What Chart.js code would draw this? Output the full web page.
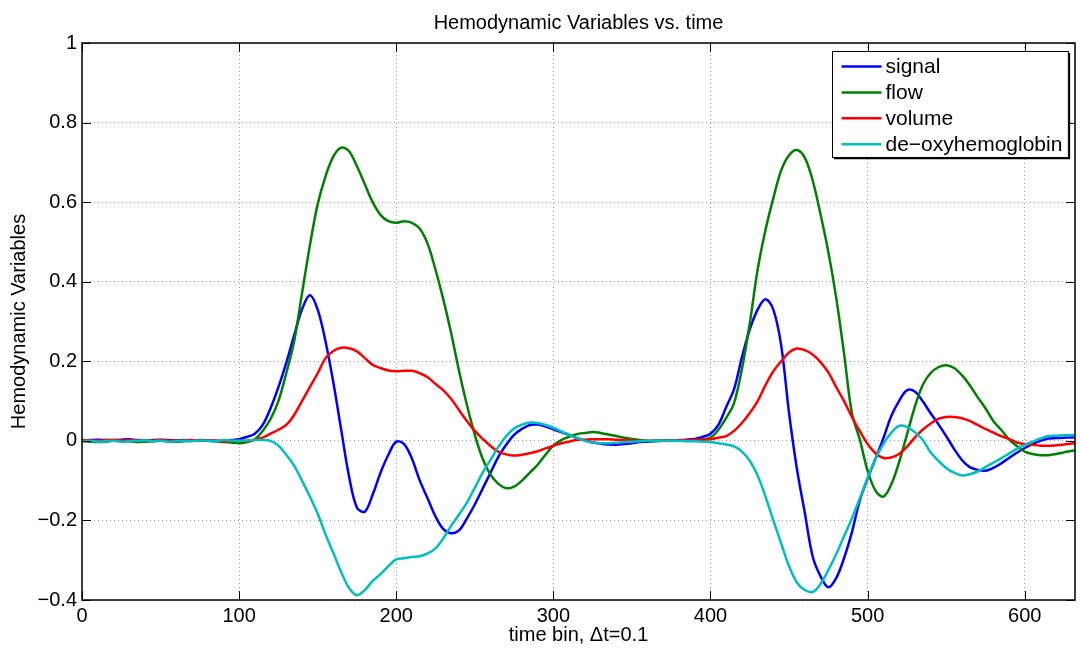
<!DOCTYPE html>
<html>
<head>
<meta charset="utf-8">
<script src="https://cdn.jsdelivr.net/npm/chart.js@4.4.1/dist/chart.umd.min.js"></script>
<style>
  html, body { margin: 0; padding: 0; background: #fff; }
  #wrap { width: 1080px; height: 654px; }
</style>
</head>
<body>
<div id="wrap"><canvas id="c" width="1080" height="654"></canvas></div>
<script>
// ---- data (time bins, dt = 0.1) ----
const timeBins = [];
for (let t = 0; t <= 630; t += 5) timeBins.push(t);
timeBins.push(632);

const signal = [
  0.001,0.002,0.003,0.002,0.001,0.003,0.004,0.002,0.001,0.002,
  0.003,0.002,0.001,0.002,0.001,0.002,0.001,0.000,0.001,0.002,
  0.004,0.010,0.018,0.040,0.082,0.135,0.196,0.265,0.330,0.366,
  0.330,0.250,0.146,0.027,-0.090,-0.168,-0.178,-0.135,-0.080,-0.035,
  -0.002,-0.008,-0.045,-0.100,-0.145,-0.190,-0.222,-0.232,-0.225,-0.195,
  -0.160,-0.120,-0.080,-0.040,-0.010,0.015,0.030,0.040,0.041,0.036,
  0.029,0.022,0.015,0.007,0.001,-0.004,-0.007,-0.009,-0.010,-0.008,
  -0.006,-0.003,-0.002,0.000,0.001,0.001,0.002,0.003,0.005,0.010,
  0.018,0.040,0.085,0.130,0.210,0.280,0.330,0.356,0.330,0.240,
  0.070,-0.070,-0.180,-0.290,-0.340,-0.368,-0.345,-0.295,-0.230,-0.150,
  -0.095,-0.045,0.006,0.062,0.100,0.127,0.124,0.100,0.070,0.042,
  0.012,-0.020,-0.048,-0.066,-0.073,-0.075,-0.068,-0.057,-0.043,-0.030,
  -0.018,-0.008,0.000,0.006,0.007,0.008,0.0085,0.009
];
const flow = [
  0.000,-0.002,-0.003,-0.002,0.000,0.001,-0.001,-0.003,-0.002,-0.001,
  0.000,-0.001,-0.002,-0.001,0.000,0.001,0.000,-0.001,-0.003,-0.004,
  -0.006,-0.003,0.004,0.025,0.055,0.100,0.170,0.250,0.370,0.490,
  0.595,0.665,0.715,0.737,0.728,0.690,0.645,0.600,0.568,0.552,
  0.548,0.552,0.548,0.533,0.495,0.430,0.355,0.270,0.175,0.090,
  0.015,-0.045,-0.085,-0.108,-0.119,-0.115,-0.100,-0.080,-0.060,-0.035,
  -0.012,0.002,0.010,0.017,0.020,0.022,0.020,0.016,0.012,0.008,
  0.005,0.002,0.000,-0.001,0.000,0.000,0.000,0.001,0.002,0.004,
  0.008,0.028,0.058,0.095,0.180,0.295,0.430,0.530,0.610,0.680,
  0.718,0.731,0.712,0.655,0.570,0.475,0.360,0.220,0.070,0.004,
  -0.075,-0.125,-0.140,-0.110,-0.054,0.015,0.085,0.140,0.170,0.185,
  0.190,0.183,0.165,0.140,0.110,0.082,0.050,0.028,0.004,-0.013,
  -0.027,-0.033,-0.036,-0.036,-0.033,-0.029,-0.025,-0.024
];
const volume = [
  0.002,0.001,0.000,0.002,0.003,0.001,0.002,0.001,0.000,0.001,
  0.002,0.001,0.000,0.001,0.002,0.000,0.001,0.000,-0.001,0.000,
  0.000,0.000,0.003,0.008,0.018,0.028,0.040,0.065,0.100,0.135,
  0.170,0.208,0.226,0.234,0.233,0.225,0.208,0.191,0.183,0.177,
  0.175,0.176,0.176,0.170,0.160,0.143,0.127,0.105,0.077,0.050,
  0.025,0.005,-0.013,-0.027,-0.034,-0.037,-0.035,-0.031,-0.026,-0.019,
  -0.0125,-0.006,-0.002,0.002,0.003,0.004,0.004,0.004,0.003,0.002,
  0.001,0.000,0.000,0.001,0.000,0.000,0.001,0.002,0.002,0.003,
  0.004,0.008,0.012,0.025,0.045,0.070,0.100,0.140,0.175,0.200,
  0.222,0.232,0.228,0.217,0.198,0.172,0.135,0.100,0.060,0.025,
  -0.008,-0.031,-0.043,-0.042,-0.033,-0.015,0.008,0.028,0.043,0.055,
  0.060,0.060,0.057,0.050,0.040,0.030,0.021,0.012,0.005,-0.004,
  -0.008,-0.010,-0.012,-0.0125,-0.011,-0.009,-0.0065,-0.006
];
const deoxy = [
  -0.001,0.000,-0.002,-0.001,0.000,-0.002,-0.001,0.000,0.001,-0.001,
  0.000,-0.002,-0.001,0.000,-0.001,0.001,0.000,-0.001,0.002,0.001,
  0.000,0.001,0.002,0.002,0.000,-0.012,-0.035,-0.062,-0.100,-0.140,
  -0.183,-0.235,-0.282,-0.330,-0.370,-0.388,-0.375,-0.352,-0.335,-0.315,
  -0.298,-0.295,-0.292,-0.290,-0.283,-0.270,-0.245,-0.213,-0.185,-0.155,
  -0.118,-0.080,-0.048,-0.015,0.012,0.031,0.041,0.046,0.045,0.040,
  0.033,0.024,0.015,0.007,0.000,-0.004,-0.006,-0.006,-0.005,-0.003,
  -0.002,-0.001,0.000,0.000,0.001,0.000,0.000,-0.001,-0.001,-0.002,
  -0.003,-0.006,-0.009,-0.014,-0.027,-0.050,-0.087,-0.140,-0.200,-0.258,
  -0.315,-0.356,-0.375,-0.380,-0.360,-0.325,-0.285,-0.240,-0.195,-0.145,
  -0.093,-0.045,-0.008,0.020,0.0375,0.035,0.022,0.003,-0.028,-0.050,
  -0.068,-0.080,-0.087,-0.084,-0.077,-0.066,-0.055,-0.044,-0.032,-0.020,
  -0.010,-0.002,0.006,0.012,0.013,0.014,0.014,0.014
];

const seriesNames = ['signal', 'flow', 'volume', 'de\u2212oxyhemoglobin'];
const seriesColors = ['#0000FF', '#008000', '#FF0000', '#00BFBF'];
const xTickValues = [0, 100, 200, 300, 400, 500, 600];
const yTickValues = [-0.4, -0.2, 0, 0.2, 0.4, 0.6, 0.8, 1];
const chartTitle = 'Hemodynamic Variables vs. time';
const xTitle = 'time bin, \u0394t=0.1';
const yTitle = 'Hemodynamic Variables';

// ---- chart ----
const FONT = '"Liberation Sans", Arial, Helvetica, sans-serif';
const toPts = arr => timeBins.map((t, i) => ({ x: t, y: arr[i] }));
const allSeries = [signal, flow, volume, deoxy];

const datasets = allSeries.map((arr, i) => ({
  label: seriesNames[i],
  data: toPts(arr),
  borderColor: seriesColors[i],
  backgroundColor: seriesColors[i],
  borderWidth: 2.5,
  pointRadius: 0,
  fill: false,
  tension: 0.35,
  order: allSeries.length - i
}));

const fmtY = v => {
  const r = Math.round(v * 10) / 10;
  if (r === 0) return '0';
  return (r < 0 ? '\u2212' : '') + String(Math.abs(r));
};

const framePlugin = {
  id: 'frame',
  afterDatasetsDraw(chart) {
    const { ctx, chartArea: a, scales: { x, y } } = chart;
    ctx.save();
    // title centred over the plot area
    ctx.fillStyle = '#000';
    ctx.font = '20px ' + FONT;
    ctx.textAlign = 'center';
    ctx.textBaseline = 'alphabetic';
    ctx.fillText(chartTitle, (a.left + a.right) / 2, 28.5);

    // inward ticks on all four sides
    ctx.strokeStyle = '#000';
    ctx.lineWidth = 1;
    const L = 9;
    ctx.beginPath();
    x.ticks.forEach(t => {
      const px = Math.round(x.getPixelForValue(t.value)) + 0.5;
      ctx.moveTo(px, a.bottom); ctx.lineTo(px, a.bottom - L);
      ctx.moveTo(px, a.top); ctx.lineTo(px, a.top + L);
    });
    y.ticks.forEach(t => {
      const py = Math.round(y.getPixelForValue(t.value)) + 0.5;
      ctx.moveTo(a.left, py); ctx.lineTo(a.left + L, py);
      ctx.moveTo(a.right, py); ctx.lineTo(a.right - L, py);
    });
    ctx.stroke();
    // box
    ctx.lineWidth = 1.5;
    ctx.strokeRect(a.left, a.top, a.right - a.left, a.bottom - a.top);

    // legend
    const fs = 21;
    ctx.font = fs + 'px ' + FONT;
    const names = chart.data.datasets.map(d => d.label);
    const maxW = Math.max(...names.map(n => ctx.measureText(n).width));
    const padL = 9, lineLen = 40, gap = 4, padR = 6;
    const w = padL + lineLen + gap + maxW + padR;
    const rowH = 25.9, firstRow = 15, h = 106;
    const bx = Math.round(a.right - 7 - w) + 0.5;
    const by = Math.round(a.top + 8) + 0.5;
    ctx.fillStyle = '#fff';
    ctx.fillRect(bx, by, w, h);
    ctx.strokeStyle = '#000';
    ctx.lineWidth = 1;
    ctx.strokeRect(bx, by, w, h);
    ctx.lineWidth = 1.5;
    ctx.beginPath();
    ctx.moveTo(bx + 1.5, by + h + 1); ctx.lineTo(bx + w + 1, by + h + 1); ctx.lineTo(bx + w + 1, by + 1.5);
    ctx.stroke();
    ctx.textBaseline = 'middle';
    ctx.textAlign = 'left';
    chart.data.datasets.forEach((d, i) => {
      const cy = by + firstRow + i * rowH;
      ctx.strokeStyle = d.borderColor;
      ctx.lineWidth = 2.5;
      ctx.beginPath();
      ctx.moveTo(bx + padL, cy); ctx.lineTo(bx + padL + lineLen, cy);
      ctx.stroke();
      ctx.fillStyle = '#000';
      ctx.fillText(d.label, bx + padL + lineLen + gap, cy + 1);
    });
    ctx.restore();
  }
};

new Chart(document.getElementById('c'), {
  type: 'line',
  data: { datasets },
  plugins: [framePlugin],
  options: {
    responsive: false,
    animation: false,
    devicePixelRatio: 1,
    layout: { padding: { left: 0, right: 5, top: 43, bottom: 0 } },
    plugins: {
      legend: { display: false },
      tooltip: { enabled: false },
      title: { display: false }
    },
    scales: {
      x: {
        type: 'linear',
        min: 0,
        max: 632,
        afterBuildTicks: s => { s.ticks = xTickValues.map(v => ({ value: v })); },
        afterFit: s => { s.height = 54; },
        grid: { color: '#9a9a9a', lineWidth: 1, drawTicks: false },
        border: { display: false, dash: [1, 3] },
        ticks: {
          color: '#000',
          padding: 4,
          maxRotation: 0,
          autoSkip: false,
          font: { family: FONT, size: 20 },
          callback: v => String(v)
        },
        title: {
          display: true,
          text: xTitle,
          color: '#000',
          font: { family: FONT, size: 20 },
          padding: { top: 0, bottom: 7 }
        }
      },
      y: {
        type: 'linear',
        min: -0.4,
        max: 1,
        afterBuildTicks: s => { s.ticks = yTickValues.map(v => ({ value: v })); },
        afterFit: s => { s.width = 82; },
        grid: { color: '#9a9a9a', lineWidth: 1, drawTicks: false },
        border: { display: false, dash: [1, 3] },
        ticks: {
          color: '#000',
          padding: 5,
          autoSkip: false,
          font: { family: FONT, size: 20 },
          callback: v => fmtY(v)
        },
        title: {
          display: true,
          text: yTitle,
          color: '#000',
          font: { family: FONT, size: 20 },
          padding: { top: 7, bottom: 0 }
        }
      }
    }
  }
});
</script>
</body>
</html>
